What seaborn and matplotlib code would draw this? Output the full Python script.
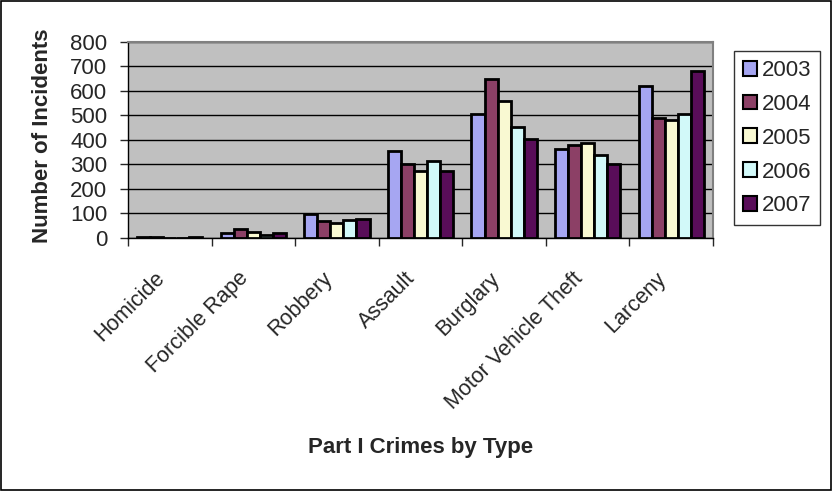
import pandas as pd
import matplotlib.pyplot as plt
import matplotlib.transforms as mtransforms
import seaborn as sns
from matplotlib.ticker import FixedLocator

categories = ['Homicide', 'Forcible Rape', 'Robbery', 'Assault', 'Burglary',
              'Motor Vehicle Theft', 'Larceny']
years = ['2003', '2004', '2005', '2006', '2007']
v2003 = [3, 22, 98, 356, 508, 364, 622]
v2004 = [3, 38, 71, 304, 650, 379, 491]
v2005 = [2, 26, 60, 275, 561, 388, 480]
v2006 = [2, 13, 74, 316, 455, 339, 507]
v2007 = [3, 22, 76, 275, 403, 302, 681]
colors = ['#9999FF', '#993366', '#FFFFCC', '#CCFFFF', '#660066']

rows = []
for yr, vals in zip(years, [v2003, v2004, v2005, v2006, v2007]):
    for cat, v in zip(categories, vals):
        rows.append({'Type': cat, 'Year': yr, 'Incidents': v})
df = pd.DataFrame(rows)

sns.set_style('white')
plt.rcParams['font.family'] = ['Liberation Sans', 'DejaVu Sans']

fig = plt.figure(figsize=(8.33, 4.91), dpi=100)
ax = fig.add_axes([128 / 833, 1 - 238 / 491, 585 / 833, 196 / 491])
ax.set_facecolor('#C0C0C0')

sns.barplot(data=df, x='Type', y='Incidents', hue='Year', order=categories,
            hue_order=years, palette=colors, width=0.78, edgecolor='black',
            linewidth=2, ax=ax, zorder=3)

ax.set_ylim(0, 800)
ax.set_xlim(-0.5, len(categories) - 0.5)
ax.set_yticks(range(0, 801, 100))
ax.yaxis.grid(True, color='black', linewidth=1, zorder=0)
ax.set_axisbelow(True)
ax.tick_params(axis='y', labelsize=16, length=6, width=1, direction='out', left=True, pad=9)
ax.tick_params(axis='x', which='major', labelsize=15.5, length=0, pad=24)
ax.xaxis.set_minor_locator(FixedLocator([i - 0.5 for i in range(len(categories) + 1)]))
ax.tick_params(axis='x', which='minor', length=6, width=1, direction='out', bottom=True)
shift = mtransforms.ScaledTranslation(-8 / 100, -4 / 100, fig.dpi_scale_trans)
for lab in ax.get_xticklabels():
    lab.set_rotation(45)
    lab.set_ha('right')
    lab.set_va('center')
    lab.set_rotation_mode('anchor')
    lab.set_transform(lab.get_transform() + shift)

for s in ['top', 'right']:
    ax.spines[s].set_color('#808080')
    ax.spines[s].set_linewidth(1.5)
for s in ['left', 'bottom']:
    ax.spines[s].set_color('black')
    ax.spines[s].set_linewidth(1)

ax.set_xlabel('Part I Crimes by Type', fontsize=16, fontweight='bold')
ax.set_ylabel('Number of Incidents', fontsize=16, fontweight='bold')
ax.xaxis.set_label_coords(0.5, -1.015)
ax.yaxis.set_label_coords(-0.128, 0.52)

leg = ax.legend(loc='upper left', bbox_to_anchor=(734 / 833, 1 - 51 / 491),
                bbox_transform=fig.transFigure, borderaxespad=0, frameon=True,
                fontsize=16, handlelength=0.65, handleheight=0.65, handletextpad=0.2,
                labelspacing=0.58, borderpad=0.4, fancybox=False)
leg.get_frame().set_edgecolor('black')
leg.get_frame().set_linewidth(1)
for h in leg.legend_handles:
    h.set_linewidth(1.5)

fig.patches.append(plt.Rectangle((0.001, 0.002), 0.997, 0.996, transform=fig.transFigure,
                                 fill=False, edgecolor='black', linewidth=1.2))

plt.savefig('out.png', dpi=100)
